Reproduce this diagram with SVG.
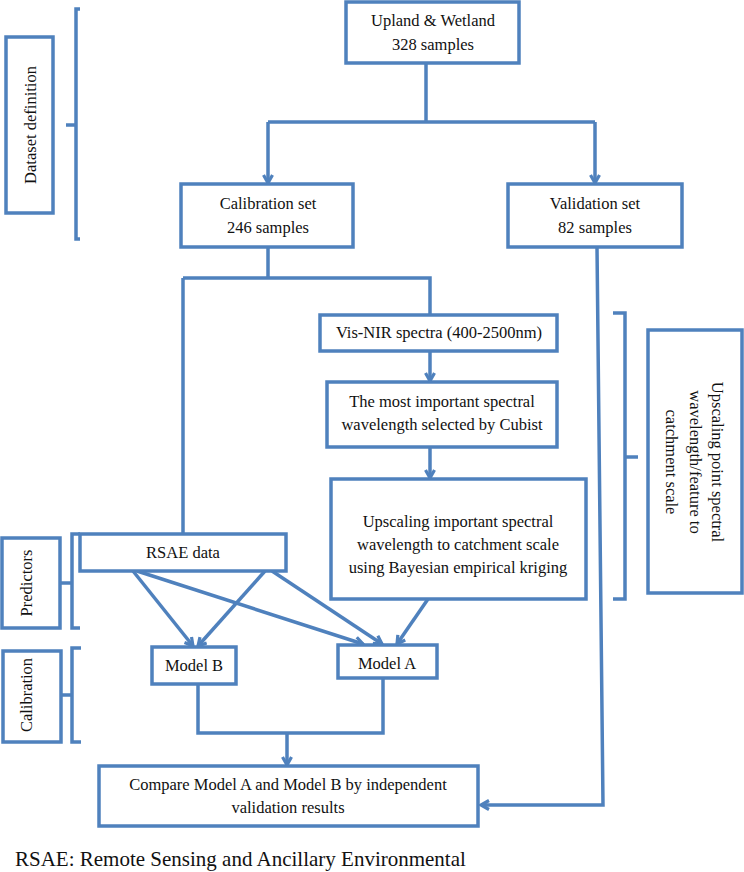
<svg xmlns="http://www.w3.org/2000/svg" width="744" height="872" viewBox="0 0 744 872">
<style>
.b{fill:#fff;stroke:#4F81BD;stroke-width:3.5}
.c{fill:none;stroke:#4F81BD;stroke-width:3.5;stroke-linejoin:miter}
.t{font-family:"Liberation Serif","Times New Roman",serif;font-size:16.5px;fill:#111;text-anchor:middle}
.f{font-family:"Liberation Serif","Times New Roman",serif;font-size:21px;fill:#111}
</style>
<defs>
<marker id="ah" markerUnits="userSpaceOnUse" viewBox="0 0 12 12" refX="10" refY="6" markerWidth="12" markerHeight="12" orient="auto">
<path d="M2,1.5 L10,6 L2,10.5" fill="none" stroke="#4F81BD" stroke-width="3.2"/>
</marker>
</defs>
<rect width="744" height="872" fill="#fff"/>

<g id="connectors">
<path class="c" d="M426,63 V122"/>
<path class="c" d="M268,122 H595"/>
<path class="c" d="M268,122 V183" marker-end="url(#ah)"/>
<path class="c" d="M595,122 V183" marker-end="url(#ah)"/>
<path class="c" d="M268,247 V278 M183,278 H430 V315 M183,278 V534"/>
<path class="c" d="M430,351 V381" marker-end="url(#ah)"/>
<path class="c" d="M430,447 V478" marker-end="url(#ah)"/>
<path class="c" d="M133,571 L193,646" marker-end="url(#ah)"/>
<path class="c" d="M265,571 L198,646" marker-end="url(#ah)"/>
<path class="c" d="M137,571 L363,644" marker-end="url(#ah)"/>
<path class="c" d="M272,571 L382,644" marker-end="url(#ah)"/>
<path class="c" d="M428,599 L397,644" marker-end="url(#ah)"/>
<path class="c" d="M198,684 V733 H383 V678"/>
<path class="c" d="M287,733 V765" marker-end="url(#ah)"/>
<path class="c" d="M597,247 L603,805 H481" marker-end="url(#ah)"/>
</g>

<g id="bracket-dataset"><path class="c" d="M80,9 H76 V239 H80 M76,125 H66"/></g>
<g id="bracket-predictors"><path class="c" d="M80,534 H72 V628 H80 M72,583 H61"/></g>
<g id="bracket-calibration"><path class="c" d="M81,648 H72 V742 H81 M72,695 H61"/></g>
<g id="bracket-upscaling"><path class="c" d="M613,313 H625 V599 H613 M625,457 H638"/></g>

<g id="label-dataset">
<rect class="b" x="6" y="37" width="47" height="176"/>
<text class="t" transform="translate(36,125) rotate(-90)">Dataset definition</text>
</g>
<g id="label-predictors">
<rect class="b" x="2" y="538" width="58" height="90"/>
<text class="t" transform="translate(32,583) rotate(-90)">Predictors</text>
</g>
<g id="label-calibration">
<rect class="b" x="3" y="651" width="58" height="91"/>
<text class="t" transform="translate(32,695) rotate(-90)">Calibration</text>
</g>
<g id="label-upscaling">
<rect class="b" x="648" y="330" width="94" height="263"/>
<text class="t" transform="translate(712,462) rotate(90)">Upscaling point spectral</text>
<text class="t" transform="translate(690,462) rotate(90)">wavelength/feature to</text>
<text class="t" transform="translate(666,462) rotate(90)">catchment scale</text>
</g>

<g id="node-upland">
<rect class="b" x="346" y="2" width="173" height="61"/>
<text class="t" x="433" y="26">Upland &amp; Wetland</text>
<text class="t" x="433" y="50">328 samples</text>
</g>
<g id="node-calibration">
<rect class="b" x="181" y="184" width="172" height="63"/>
<text class="t" x="268" y="209">Calibration set</text>
<text class="t" x="268" y="233">246 samples</text>
</g>
<g id="node-validation">
<rect class="b" x="508" y="184" width="174" height="63"/>
<text class="t" x="595" y="209">Validation set</text>
<text class="t" x="595" y="233">82 samples</text>
</g>
<g id="node-visnir">
<rect class="b" x="320" y="315" width="237" height="36"/>
<text class="t" x="439" y="338">Vis-NIR spectra (400-2500nm)</text>
</g>
<g id="node-cubist">
<rect class="b" x="327" y="382" width="230" height="65"/>
<text class="t" x="442" y="407">The most important spectral</text>
<text class="t" x="442" y="430">wavelength selected by Cubist</text>
</g>
<g id="node-upscaling">
<rect class="b" x="331" y="479" width="255" height="120"/>
<text class="t" x="458" y="527">Upscaling important spectral</text>
<text class="t" x="458" y="550">wavelength to catchment scale</text>
<text class="t" x="458" y="573">using Bayesian empirical kriging</text>
</g>
<g id="node-rsae">
<rect class="b" x="80" y="534" width="206" height="37"/>
<text class="t" x="183" y="558">RSAE data</text>
</g>
<g id="node-modelb">
<rect class="b" x="152" y="647" width="84" height="37"/>
<text class="t" x="194" y="671">Model B</text>
</g>
<g id="node-modela">
<rect class="b" x="338" y="645" width="99" height="33"/>
<text class="t" x="387" y="669">Model A</text>
</g>
<g id="node-compare">
<rect class="b" x="99" y="766" width="379" height="60"/>
<text class="t" x="288" y="790">Compare Model A and Model B by independent</text>
<text class="t" x="288" y="813">validation results</text>
</g>
<text class="f" x="15" y="866">RSAE: Remote Sensing and Ancillary Environmental</text>
</svg>
